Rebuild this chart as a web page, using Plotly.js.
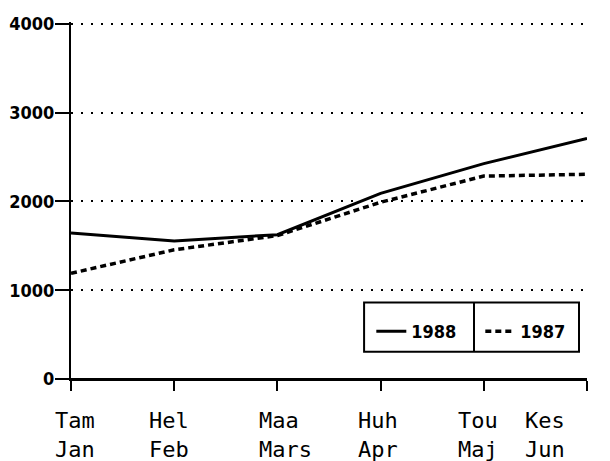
<!DOCTYPE html>
<html><head><meta charset="utf-8">
<script src="https://cdn.plot.ly/plotly-3.0.1.min.js"></script>
<style>body{margin:0;background:#fff}#c{width:610px;height:461px}</style>
</head><body><div id="c"></div>
<script>
const labelsFi = ["Tam","Hel","Maa","Huh","Tou","Kes"];
const labelsSv = ["Jan","Feb","Mars","Apr","Maj","Jun"];
const cats = labelsSv;
const s1988 = [1645, 1555, 1625, 2090, 2425, 2710];
const s1987 = [1190, 1455, 1615, 1990, 2285, 2305];
const yTicks = [0, 1000, 2000, 3000, 4000];
const labelShift = [-18, -27, -20, -25, -28, -64];

const numFont = {family: "DejaVu Sans Condensed, DejaVu Sans", size: 18, color: "#000", weight: "bold"};
const traces = [
  {x: cats, y: s1988, name: "1988", mode: "lines", line: {color: "#000", width: 3}},
  {x: cats, y: s1987, name: "1987", mode: "lines", line: {color: "#000", width: 3.5, dash: "6px,4px"}}
];
const annotations = cats.map((c, i) => ({
  x: c, xref: "x", y: 0, yref: "paper", xanchor: "left", yanchor: "top", align: "left",
  xshift: labelShift[i], yshift: -27, showarrow: false,
  text: labelsFi[i] + "<br>" + labelsSv[i],
  font: {family: "DejaVu Sans Mono", size: 22, color: "#000"}
}));
const layout = {
  width: 610, height: 461,
  margin: {l: 71, r: 23, t: 22, b: 82, autoexpand: false},
  paper_bgcolor: "#fff", plot_bgcolor: "#fff",
  showlegend: true,
  legend: {orientation: "h", x: 0.582, y: 0.185, xanchor: "left", yanchor: "top",
           bgcolor: "rgba(0,0,0,0)", borderwidth: 0, font: numFont, entrywidth: 64,
           traceorder: "normal", itemwidth: 30},
  xaxis: {type: "category", categoryarray: cats, tickvals: cats, showticklabels: false,
          range: [0, 5], showgrid: false, zeroline: false, automargin: false,
          showline: true, linecolor: "#000", linewidth: 2,
          ticks: "outside", ticklen: 10, tickwidth: 2, tickcolor: "#000"},
  yaxis: {range: [0, 4020], tickvals: yTicks, ticktext: yTicks.map(String),
          showgrid: true, gridcolor: "#000", gridwidth: 2, griddash: "2px,8px",
          zeroline: false, showline: true, linecolor: "#000", linewidth: 2, automargin: false,
          ticks: "outside", ticklen: 14, tickwidth: 2, tickcolor: "#000",
          tickfont: numFont, ticklabelstandoff: -3},
  annotations: annotations,
  shapes: [
    {type: "line", xref: "paper", yref: "paper", x0: 0, x1: 1, y0: 0, y1: 0, line: {color: "#000", width: 2}},
    {type: "rect", xref: "paper", yref: "paper", x0: 0.568, x1: 0.9845, y0: 0.076, y1: 0.214,
     fillcolor: "#fff", line: {color: "#000", width: 2}, layer: "above"},
    {type: "line", xref: "paper", yref: "paper", x0: 0.781, x1: 0.781, y0: 0.076, y1: 0.214, line: {color: "#000", width: 2}}
  ]
};
Plotly.newPlot("c", traces, layout, {staticPlot: true});
</script></body></html>
